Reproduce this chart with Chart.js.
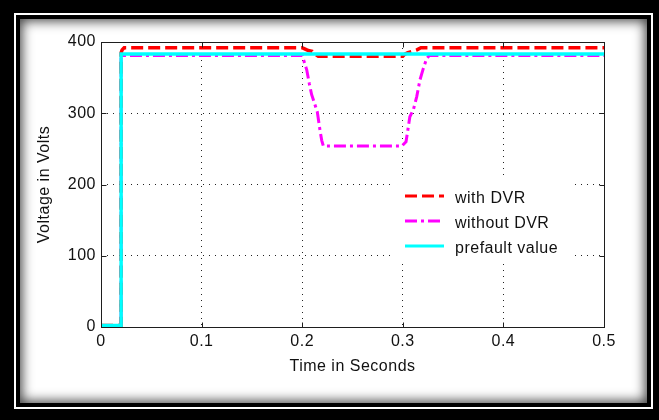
<!DOCTYPE html>
<html>
<head>
<meta charset="utf-8">
<script src="https://cdn.jsdelivr.net/npm/chart.js@4/dist/chart.umd.min.js"></script>
<style>
  html, body { margin:0; padding:0; }
  body { width:659px; height:420px; overflow:hidden; position:relative; background:#000; }
  #whiteLine { position:absolute; left:14px; top:13px; width:639px; height:396px; box-sizing:border-box; border:2px solid #fff; }
  #inner { position:absolute; left:20px; top:19px; width:627px; height:384px; background:#fff; box-shadow: inset 0 0 12px 2px rgba(0,0,0,0.75); }
  #c { position:absolute; left:0; top:0; }
</style>
</head>
<body>
<div id="whiteLine"></div>
<div id="inner"></div>
<canvas id="c" width="659" height="420"></canvas>
<script>
// ---- data ----
const seriesLabels = ['with DVR', 'without DVR', 'prefault value'];

const timeWithDVR  = [0, 0.02, 0.02, 0.021, 0.023, 0.2, 0.203, 0.206, 0.21, 0.213, 0.216, 0.3, 0.302, 0.305, 0.31, 0.314, 0.318, 0.5];
const voltsWithDVR = [2, 2, 385, 389, 392, 392, 390, 388, 387, 383, 380, 380, 383, 385, 387, 389, 392, 392];

const timeWithoutDVR  = [0, 0.02, 0.02, 0.2, 0.2045, 0.207, 0.2094, 0.2127, 0.215, 0.2177, 0.2194, 0.221, 0.299, 0.3032, 0.3055, 0.307, 0.3105, 0.3138, 0.3171, 0.3204, 0.3238, 0.3264, 0.5];
const voltsWithoutDVR = [2, 2, 381, 381, 361, 342, 326, 312, 302, 276, 262, 254, 254, 260, 281, 295, 305, 323, 347, 363, 377, 381, 381];

const timePrefault  = [0, 0.02, 0.02, 0.5];
const voltsPrefault = [2, 2, 383, 383];

const xTickValues = [0, 0.1, 0.2, 0.3, 0.4, 0.5];
const yTickValues = [0, 100, 200, 300, 400];

const xTitle = 'Time in Seconds';
const yTitle = 'Voltage in Volts';

// ---- build ----
const toPoints = (xs, ys) => xs.map((x, i) => ({ x: x, y: ys[i] }));

const FONT_FAMILY = '"Liberation Sans", Arial, sans-serif';
Chart.defaults.font.family = FONT_FAMILY;
Chart.defaults.font.size = 16;
Chart.defaults.color = '#111';

const textSpacing = {
  id: 'textSpacing',
  beforeDraw(chart) { chart.ctx.letterSpacing = '0.5px'; }
};

const axesBox = {
  id: 'axesBox',
  afterDatasetsDraw(chart) {
    const { ctx, chartArea: a, scales: { x, y } } = chart;
    ctx.save();
    ctx.strokeStyle = '#1e1e1e';
    ctx.lineWidth = 1;
    ctx.setLineDash([]);
    const L = Math.round(a.left) + 0.5, R = Math.round(a.right) + 0.5;
    const T = Math.round(a.top) + 0.5, B = Math.round(a.bottom) + 0.5;
    ctx.strokeRect(L, T, R - L, B - T);
    const tl = 5;
    ctx.beginPath();
    xTickValues.forEach(v => {
      const px = Math.round(x.getPixelForValue(v)) + 0.5;
      ctx.moveTo(px, B); ctx.lineTo(px, B - tl);
      ctx.moveTo(px, T); ctx.lineTo(px, T + tl);
    });
    yTickValues.forEach(v => {
      const py = Math.round(y.getPixelForValue(v)) + 0.5;
      ctx.moveTo(L, py); ctx.lineTo(L + tl, py);
      ctx.moveTo(R, py); ctx.lineTo(R - tl, py);
    });
    ctx.stroke();
    ctx.restore();
  }
};

const innerLegend = {
  id: 'innerLegend',
  afterDraw(chart) {
    const { ctx, chartArea: a } = chart;
    const boxL = a.right - 212, boxR = a.right - 32;
    const boxT = a.top + 138, boxB = a.top + 220;
    ctx.save();
    ctx.letterSpacing = '0.5px';
    ctx.fillStyle = '#fff';
    ctx.fillRect(boxL, boxT, boxR - boxL, boxB - boxT);
    const rows = [boxT + 16, boxT + 41, boxT + 66];
    chart.data.datasets.forEach((ds, i) => {
      const yy = rows[i];
      ctx.beginPath();
      ctx.strokeStyle = ds.borderColor;
      ctx.lineWidth = Math.min(ds.borderWidth, 3);
      ctx.lineCap = 'butt';
      ctx.setLineDash(ds.borderDash || []);
      ctx.moveTo(boxL + 13, yy);
      ctx.lineTo(boxL + 52, yy);
      ctx.stroke();
      ctx.setLineDash([]);
      ctx.fillStyle = '#111';
      ctx.font = '16px ' + FONT_FAMILY;
      ctx.textAlign = 'left';
      ctx.textBaseline = 'middle';
      ctx.fillText(ds.label, boxL + 63, yy + 3);
    });
    ctx.restore();
  }
};

new Chart(document.getElementById('c'), {
  type: 'line',
  data: {
    datasets: [
      {
        label: seriesLabels[0],
        data: toPoints(timeWithDVR, voltsWithDVR),
        borderColor: '#ff0000',
        borderWidth: 3.5,
        borderDash: [12, 5],
        order: 1
      },
      {
        label: seriesLabels[1],
        data: toPoints(timeWithoutDVR, voltsWithoutDVR),
        borderColor: '#ff00ff',
        borderWidth: 3,
        borderDash: [12, 4, 3, 4],
        order: 2
      },
      {
        label: seriesLabels[2],
        data: toPoints(timePrefault, voltsPrefault),
        borderColor: '#00ffff',
        borderWidth: 3.5,
        order: 0
      }
    ]
  },
  options: {
    responsive: false,
    devicePixelRatio: 1,
    animation: false,
    elements: {
      point: { radius: 0, hoverRadius: 0 },
      line: { tension: 0, fill: false, borderCapStyle: 'butt' }
    },
    layout: { padding: { left: 0, top: 42, right: 55, bottom: 0 } },
    plugins: { legend: { display: false }, tooltip: { enabled: false } },
    scales: {
      x: {
        type: 'linear',
        min: 0, max: 0.5,
        afterBuildTicks: s => { s.ticks = xTickValues.map(v => ({ value: v })); },
        afterFit: s => { s.height = 93; },
        ticks: { padding: 5, maxRotation: 0, callback: v => String(v) },
        grid: { color: '#222', lineWidth: 1, drawTicks: false },
        border: { display: false, dash: [1, 5] },
        title: { display: true, text: xTitle, padding: { top: 0, bottom: 44 } }
      },
      y: {
        type: 'linear',
        min: 0, max: 400,
        afterBuildTicks: s => { s.ticks = yTickValues.map(v => ({ value: v })); },
        afterFit: s => { s.width = 101; },
        ticks: { padding: 5, callback: v => String(v) },
        grid: { color: '#222', lineWidth: 1, drawTicks: false },
        border: { display: false, dash: [1, 5] },
        title: { display: true, text: yTitle, padding: { top: 35, bottom: 0 } }
      }
    }
  },
  plugins: [textSpacing, axesBox, innerLegend]
});
</script>
</body>
</html>
